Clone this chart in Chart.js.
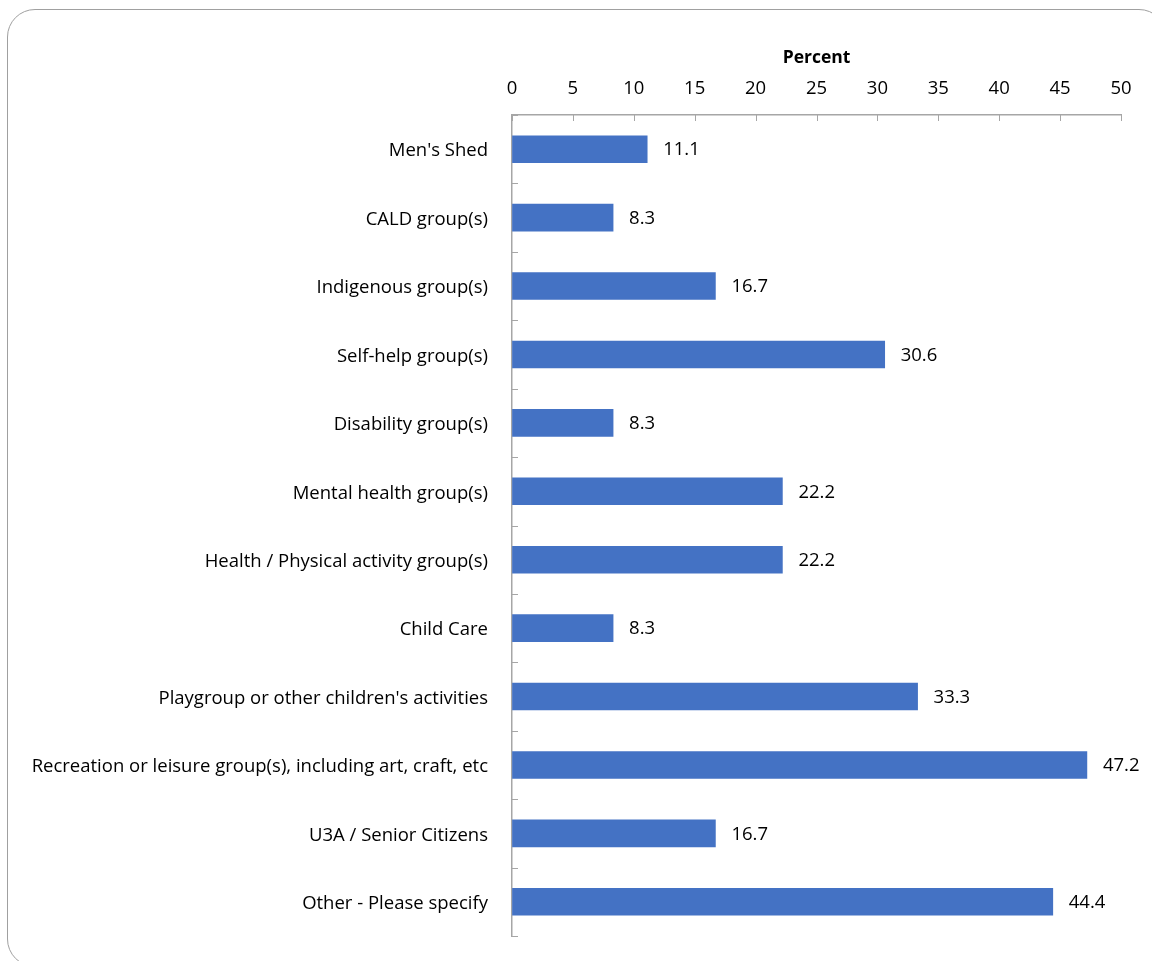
<!DOCTYPE html>
<html>
<head>
<meta charset="utf-8">
<script src="https://cdn.jsdelivr.net/npm/chart.js@4.4.1/dist/chart.umd.min.js"></script>
<style>
  html, body { margin: 0; padding: 0; background: #fff; overflow: hidden; }
  #wrap { position: relative; width: 1152px; height: 961px; }
  #frame {
    position: absolute; left: 7px; top: 9px; width: 1160px; height: 958px;
    border: 1.5px solid #a0a0a0; border-radius: 28px; box-sizing: border-box;
  }
  canvas { position: absolute; left: 0; top: 0; }
</style>
</head>
<body>
<div id="wrap">
  <div id="frame"></div>
  <canvas id="chart" width="1152" height="961"></canvas>
</div>
<script>
// categories, top to bottom
const categories = [
  "Men's Shed",
  "CALD group(s)",
  "Indigenous group(s)",
  "Self-help group(s)",
  "Disability group(s)",
  "Mental health group(s)",
  "Health / Physical activity group(s)",
  "Child Care",
  "Playgroup or other children's activities",
  "Recreation or leisure group(s), including art, craft, etc",
  "U3A / Senior Citizens",
  "Other - Please specify"
];
const percents = [11.1, 8.3, 16.7, 30.6, 8.3, 22.2, 22.2, 8.3, 33.3, 47.2, 16.7, 44.4];
const xMin = 0, xMax = 50, xStep = 5;

const FONT = "'Open Sans', sans-serif";
const FSIZE = 18.5;
const AXIS_GREY = "#a6a6a6";

// tick marks drawn inside the plot, like the office chart
const innerTicks = {
  id: "innerTicks",
  afterDatasetsDraw(chart) {
    const { ctx, chartArea, scales } = chart;
    const x = scales.x, y = scales.y;
    ctx.save();
    ctx.strokeStyle = AXIS_GREY;
    ctx.lineWidth = 1;
    ctx.beginPath();
    x.ticks.forEach((t, i) => {
      const px = Math.round(x.getPixelForTick(i)) + 0.5;
      ctx.moveTo(px, chartArea.top);
      ctx.lineTo(px, chartArea.top + 6);
    });
    for (let i = 0; i <= categories.length; i++) {
      const py = Math.round(y.getPixelForValue(i - 0.5)) + 0.5;
      ctx.moveTo(chartArea.left, py);
      ctx.lineTo(chartArea.left + 6, py);
    }
    ctx.stroke();
    ctx.restore();
  }
};

// value labels at the end of each bar
const barLabels = {
  id: "barLabels",
  afterDatasetsDraw(chart) {
    const { ctx } = chart;
    const meta = chart.getDatasetMeta(0);
    ctx.save();
    ctx.font = FSIZE + "px " + FONT;
    ctx.fillStyle = "#000";
    ctx.textAlign = "left";
    ctx.textBaseline = "middle";
    meta.data.forEach((bar, i) => {
      ctx.fillText(percents[i].toFixed(1), bar.x + 16, bar.y + 1);
    });
    ctx.restore();
  }
};

new Chart(document.getElementById("chart"), {
  type: "bar",
  data: {
    labels: categories,
    datasets: [{
      data: percents,
      backgroundColor: "#4472c4",
      barThickness: 27
    }]
  },
  options: {
    indexAxis: "y",
    responsive: false,
    animation: false,
    layout: { padding: { left: 0, top: 0, right: 31, bottom: 25 } },
    plugins: { legend: { display: false }, tooltip: { enabled: false } },
    scales: {
      x: {
        position: "top",
        min: xMin,
        max: xMax,
        ticks: {
          stepSize: xStep,
          color: "#000",
          font: { family: FONT, size: FSIZE },
          padding: 15
        },
        grid: { display: true, drawOnChartArea: false, drawTicks: false },
        border: { color: AXIS_GREY, width: 1.5 },
        title: {
          display: true,
          text: "Percent",
          color: "#000",
          font: { family: FONT, size: 17.5, weight: "bold" },
          padding: { top: 48, bottom: 0 }
        },
        afterFit(scale) { scale.height = 115; }
      },
      y: {
        offset: true,
        ticks: {
          color: "#000",
          font: { family: FONT, size: FSIZE },
          padding: 24,
          labelOffset: 2,
          autoSkip: false
        },
        grid: { display: true, drawOnChartArea: false, drawTicks: false },
        border: { color: AXIS_GREY, width: 1.5 },
        afterFit(scale) {
          scale.width = 512;
          scale.paddingTop = 0;
          scale.paddingBottom = 0;
        }
      }
    }
  },
  plugins: [innerTicks, barLabels]
});
</script>
</body>
</html>
